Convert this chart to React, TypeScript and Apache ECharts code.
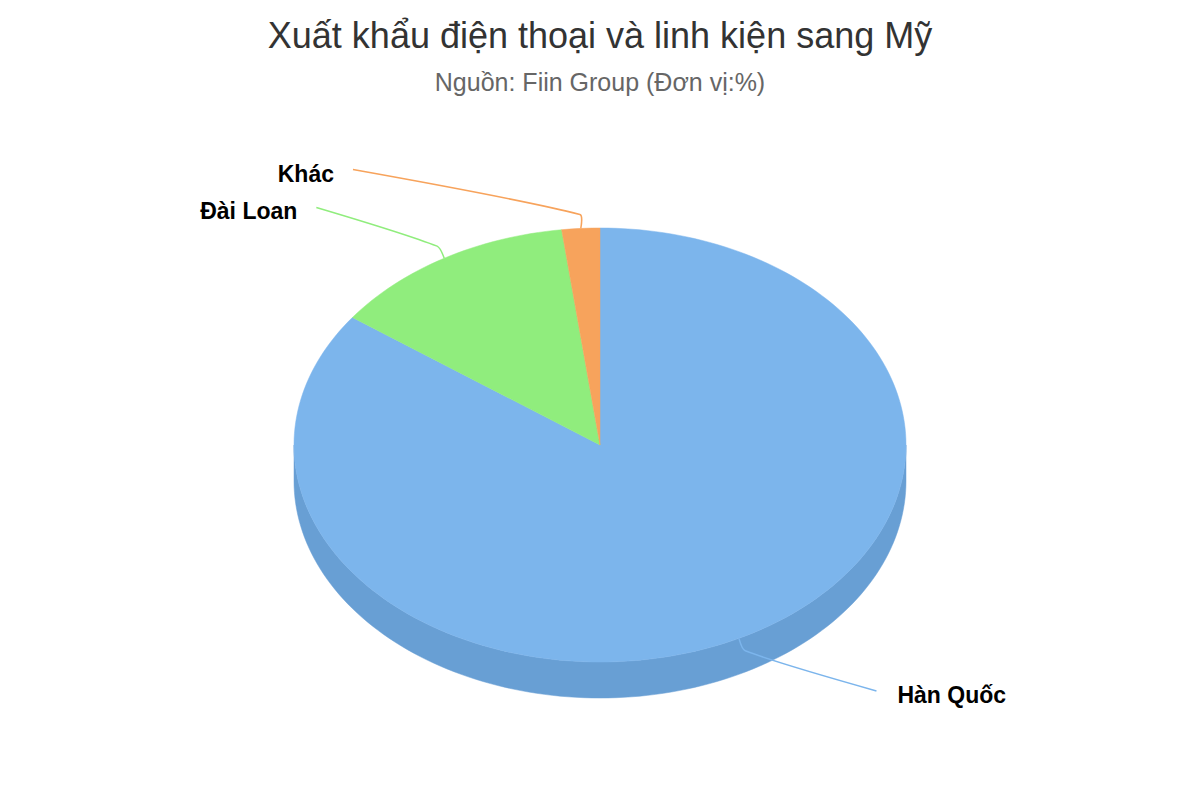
import React, { useEffect, useRef } from "react";
import * as echarts from "echarts";

const categories = ["Hàn Quốc", "Đài Loan", "Khác"];
const shares = [85, 13, 2];
const topColors = ["#7cb5ec", "#90ed7d", "#f7a35c"];
const sideColors = ["#689fd4", "#7dd36b", "#de8f4a"];

const titleText = "Xuất khẩu điện thoại và linh kiện sang Mỹ";
const subtitleText = "Nguồn: Fiin Group (Đơn vị:%)";

const FONT = "'Liberation Sans', Arial, sans-serif";

// pie geometry (tilted ellipse)
const RX = 306;
const RY = 217;
const DEPTH = 36;
const LABEL_RY = 276;
const LABEL_R = 370;

const total = shares.reduce((a, b) => a + b, 0);

const sliceAngles = (i: number) => {
  let before = 0;
  for (let k = 0; k < i; k++) before += shares[k];
  return [(before / total) * 360, ((before + shares[i]) / total) * 360];
};

const rad = (d: number) => (d * Math.PI) / 180;

// theta: degrees clockwise from 12 o'clock
const pt = (cx: number, cy: number, th: number, dy = 0) => [
  cx + RX * Math.sin(rad(th)),
  cy - RY * Math.cos(rad(th)) + dy,
];

const arc = (cx: number, cy: number, a0: number, a1: number, dy = 0) => {
  const pts: number[][] = [];
  const n = Math.max(2, Math.ceil(Math.abs(a1 - a0) / 1.5));
  for (let k = 0; k <= n; k++) pts.push(pt(cx, cy, a0 + ((a1 - a0) * k) / n, dy));
  return pts;
};

const App = () => {
  const chartRef = useRef<HTMLDivElement>(null);

  // eslint-disable-next-line consistent-return
  useEffect(() => {
    if (chartRef.current) {
      const chart = echarts.init(chartRef.current, null, { renderer: "svg" });
      const data = shares.map((v, i) => ({ name: categories[i], value: v }));

      const options: echarts.EChartsOption = {
        animation: false,
        backgroundColor: "#ffffff",
        title: [
          {
            text: titleText,
            left: "center",
            top: 12,
            textStyle: { fontFamily: FONT, fontSize: 36, fontWeight: "normal", color: "#333333" },
          },
          {
            text: subtitleText,
            left: "center",
            top: 64,
            textStyle: { fontFamily: FONT, fontSize: 25, fontWeight: "normal", color: "#666666" },
          },
        ],
        series: [
          {
            type: "custom",
            name: "sides",
            coordinateSystem: "none",
            silent: true,
            data,
            renderItem: (params: any, api: any) => {
              const i = params.dataIndex;
              const cx = api.getWidth() / 2;
              const cy = 445;
              const [a0, a1] = sliceAngles(i);
              const b0 = Math.max(a0, 90);
              const b1 = Math.min(a1, 270);
              if (b1 <= b0) return { type: "group", children: [] };
              const top = arc(cx, cy, b0, b1);
              const bottom = arc(cx, cy, b1, b0, DEPTH);
              return {
                type: "polygon",
                shape: { points: top.concat(bottom) },
                style: { fill: sideColors[i], stroke: sideColors[i], lineWidth: 0.5 },
              };
            },
          },
          {
            type: "custom",
            name: "tops",
            coordinateSystem: "none",
            silent: true,
            data,
            renderItem: (params: any, api: any) => {
              const i = params.dataIndex;
              const cx = api.getWidth() / 2;
              const cy = 445;
              const [a0, a1] = sliceAngles(i);
              const mid = (a0 + a1) / 2;
              const s = Math.sin(rad(mid));
              const c = Math.cos(rad(mid));
              const edge = pt(cx, cy, mid);
              const brk = [edge[0] + 14 * s, edge[1] - 14 * c];
              const ly = cy - LABEL_RY * c;
              const dx = Math.sqrt(Math.max(0, LABEL_R * LABEL_R - (ly - cy) * (ly - cy)));
              const right = s >= 0;
              const lx = cx + (right ? dx : -dx);
              return {
                type: "group",
                children: [
                  {
                    type: "polygon",
                    shape: { points: [[cx, cy]].concat(arc(cx, cy, a0, a1)) },
                    style: { fill: topColors[i], stroke: topColors[i], lineWidth: 0.5 },
                  },
                  {
                    type: "polyline",
                    z2: 10,
                    shape: { points: [edge, brk, [lx, ly]], smooth: 0.25 },
                    style: { stroke: topColors[i], lineWidth: 1.5, fill: "none" },
                  },
                  {
                    type: "text",
                    z2: 10,
                    x: lx + (right ? 21 : -19),
                    y: ly + 4,
                    style: {
                      text: api.value(0) >= 0 ? categories[i] : "",
                      fontFamily: FONT,
                      fontSize: 23,
                      fontWeight: "bold",
                      fill: "#000000",
                      align: right ? "left" : "right",
                      verticalAlign: "middle",
                    },
                  },
                ],
              };
            },
          },
        ],
      };
      chart.setOption(options);
      return () => {
        chart.dispose();
      };
    }
  }, []);

  return (
    <div
      ref={chartRef}
      style={{ position: "absolute", left: 0, top: 0, width: "1200px", height: "800px" }}
    />
  );
};

export default App;
